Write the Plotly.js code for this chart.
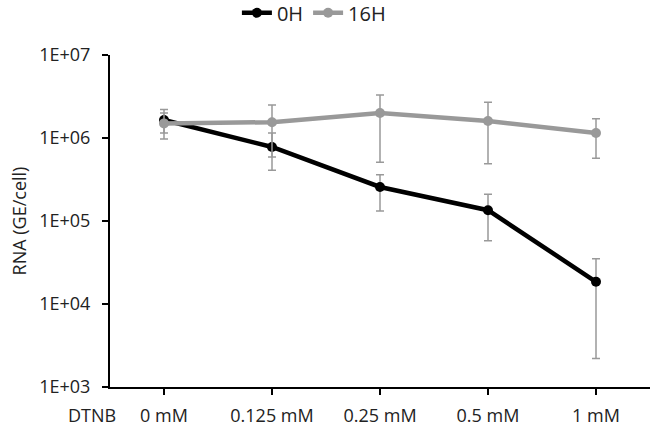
<!DOCTYPE html>
<html>
<head>
<meta charset="utf-8">
<script src="https://cdn.plot.ly/plotly-3.0.1.min.js"></script>
<style>
html,body{margin:0;padding:0;background:#fff;}
#chart{width:653px;height:427px;}
</style>
</head>
<body>
<div id="chart"></div>
<script>
// categories (DTNB concentration)
const categories = ["0 mM", "0.125 mM", "0.25 mM", "0.5 mM", "1 mM"];
const axisLabel = "DTNB";

// 0H series: mean and error bar ends (GE/cell)
const h0Values = [1650000, 780000, 257000, 135000, 18500];
const h0Upper  = [2200000, 1150000, 360000, 210000, 35000];
const h0Lower  = [1150000, 410000, 132000, 58000, 2200];

// 16H series
const h16Values = [1500000, 1550000, 2000000, 1600000, 1150000];
const h16Upper  = [2000000, 2500000, 3300000, 2700000, 1700000];
const h16Lower  = [970000, 590000, 510000, 490000, 570000];

const plus = (v, u) => v.map((x, i) => u[i] - x);
const minus = (v, l) => v.map((x, i) => x - l[i]);

const errStyle = {color: "#999999", thickness: 1.5, width: 4};

const traces = [
  {
    type: "scatter", mode: "lines+markers", name: "0H",
    x: categories, y: h0Values,
    line: {color: "#000000", width: 4.5},
    marker: {color: "#000000", size: 10},
    error_y: Object.assign({type: "data", symmetric: false,
      array: plus(h0Values, h0Upper), arrayminus: minus(h0Values, h0Lower)}, errStyle)
  },
  {
    type: "scatter", mode: "lines+markers", name: "16H",
    x: categories, y: h16Values,
    line: {color: "#999999", width: 4.5},
    marker: {color: "#999999", size: 10},
    error_y: Object.assign({type: "data", symmetric: false,
      array: plus(h16Values, h16Upper), arrayminus: minus(h16Values, h16Lower)}, errStyle)
  }
];

const fam = "Open Sans, Noto Sans, sans-serif";
const txt = {family: fam, size: 18, color: "#222222"};

const layout = {
  width: 653, height: 427,
  margin: {l: 110, r: 3, t: 55, b: 40, autoexpand: false},
  paper_bgcolor: "#ffffff", plot_bgcolor: "#ffffff",
  font: txt,
  showlegend: true,
  legend: {orientation: "h", x: 0.235, xanchor: "left", y: 1.127, yanchor: "middle",
           font: {family: fam, size: 20, color: "#222222"}, itemwidth: 30, tracegroupgap: 0},
  xaxis: {
    type: "category", range: [-0.5, 4.5],
    showgrid: false, zeroline: false,
    showline: true, linecolor: "#000000", linewidth: 2,
    ticks: "outside", ticklen: 6, tickwidth: 2, tickcolor: "#000000",
    tickfont: txt, ticklabelstandoff: 5,
    fixedrange: true
  },
  yaxis: {
    type: "log", range: [3, 7],
    tickvals: [1e3, 1e4, 1e5, 1e6, 1e7],
    ticktext: ["1E+03", "1E+04", "1E+05", "1E+06", "1E+07"],
    showgrid: false, zeroline: false,
    showline: true, linecolor: "#000000", linewidth: 2,
    ticks: "outside", ticklen: 6, tickwidth: 2, tickcolor: "#000000",
    tickfont: txt, ticklabelstandoff: 8,
    title: {text: "RNA (GE/cell)", font: txt, standoff: 8},
    fixedrange: true
  },
  annotations: [
    {text: axisLabel, xref: "paper", yref: "paper", x: -0.033, y: 0, xanchor: "center",
     yanchor: "middle", yshift: -28, showarrow: false, font: txt}
  ]
};

Plotly.newPlot("chart", traces, layout, {displayModeBar: false, staticPlot: true});
</script>
</body>
</html>
